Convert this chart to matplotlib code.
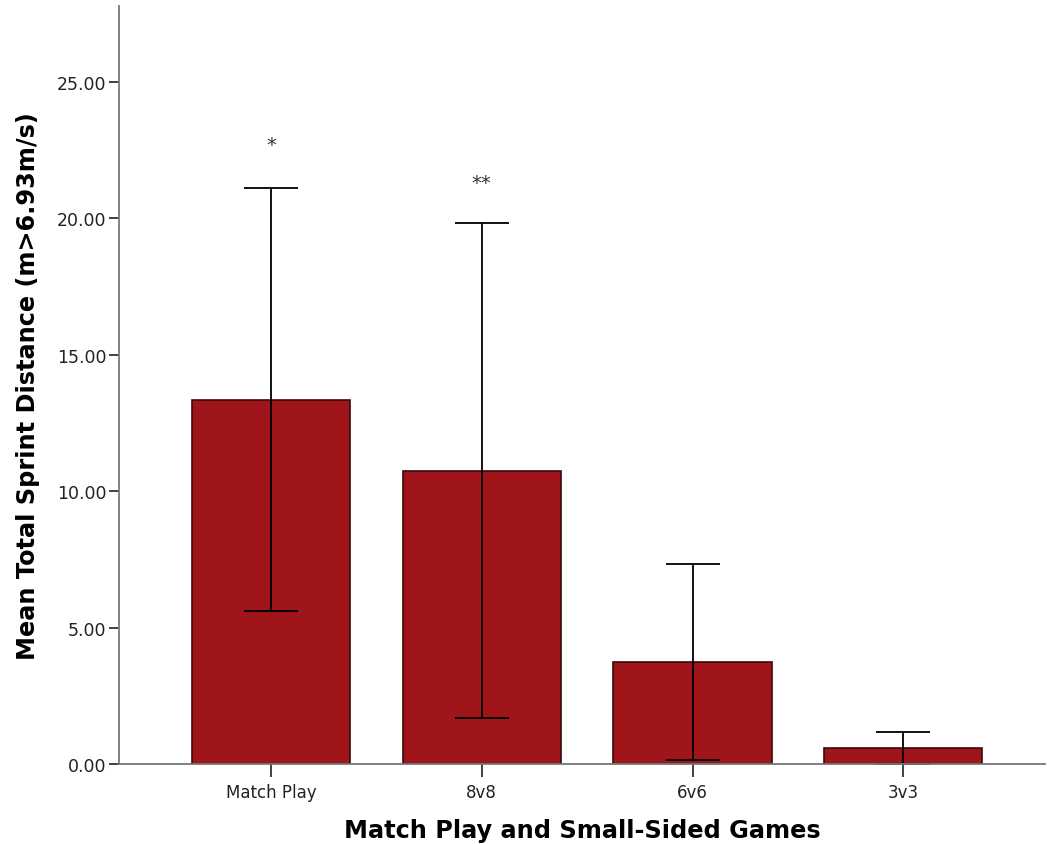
import matplotlib.pyplot as plt
import numpy as np

games = ["Match Play", "8v8", "6v6", "3v3"]
mean_sprint = [13.35, 10.76, 3.745, 0.58]
sd_sprint = [7.75, 9.07, 3.59, 0.61]
sig_marks = ["*", "**", "", ""]
yticks = [0, 5, 10, 15, 20, 25]

fig = plt.figure(figsize=(10.47, 8.45), dpi=100)
ax = fig.add_axes([0.1137, 0.0947, 0.884, 0.897])

x = np.arange(len(games))
ax.bar(x, mean_sprint, width=0.75, color="#A0151A", edgecolor="#3a0a0a", linewidth=1.2, zorder=2)
# error bars sit under the axis spines so anything below zero is hidden
ax.errorbar(x, mean_sprint, yerr=sd_sprint, fmt="none", ecolor="black",
            elinewidth=1.3, capsize=19.5, capthick=1.3, zorder=2.2)

for xi, m, s, mark in zip(x, mean_sprint, sd_sprint, sig_marks):
    if mark:
        ax.text(xi, m + s + 1.6 if mark == "*" else m + s + 1.5, mark, ha="center", va="center",
                fontsize=14, color="#333333")

ax.set_xlim(-0.72, 3.67)
ax.set_ylim(0, 27.79)
ax.set_yticks(yticks)
ax.set_yticklabels([f"{v:.2f}" for v in yticks])
ax.set_xticks(x)
ax.set_xticklabels(games)

for side in ["top", "right"]:
    ax.spines[side].set_visible(False)
for side in ["left", "bottom"]:
    ax.spines[side].set_color("#777777")
    ax.spines[side].set_linewidth(1.3)
    ax.spines[side].set_zorder(2.5)

ax.tick_params(axis="y", length=7, width=1.3, color="#333333", labelsize=12.5, labelcolor="#222222", pad=2)
ax.tick_params(axis="x", length=9, width=1.3, color="#333333", labelsize=12, labelcolor="#222222", pad=5)

ax.set_xlabel("Match Play and Small-Sided Games", fontsize=17.3, fontweight="bold", labelpad=12)
ax.set_ylabel("Mean Total Sprint Distance (m>6.93m/s)", fontsize=17.3, fontweight="bold", labelpad=12)

fig.savefig("out.png", dpi=100)
